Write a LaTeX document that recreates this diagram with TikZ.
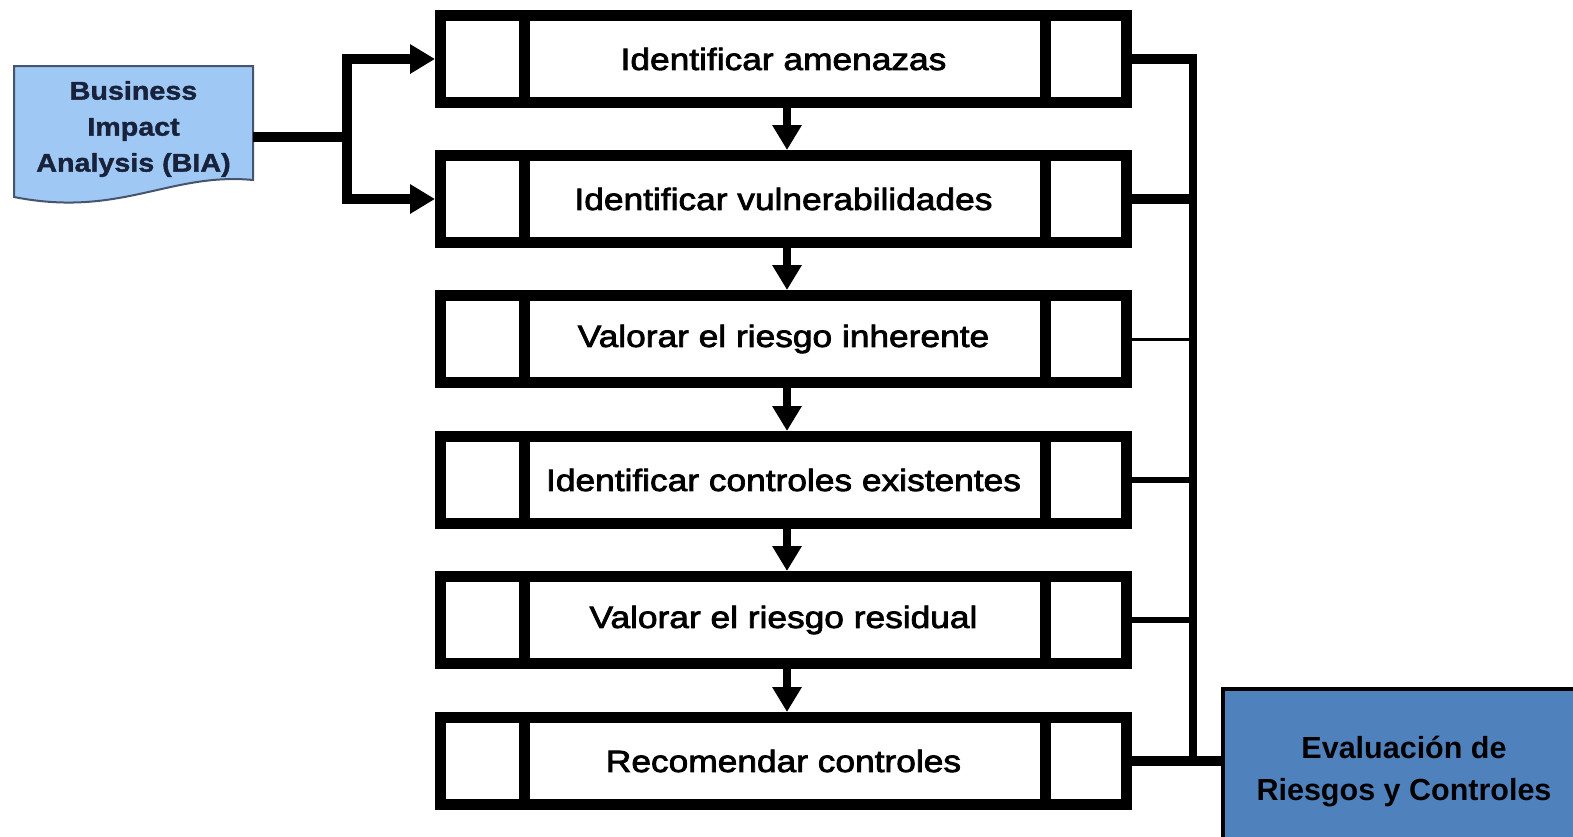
\documentclass[tikz,border=0pt]{standalone}
\usepackage{fontspec}
\setmainfont{Liberation Sans}
\usetikzlibrary{arrows.meta,calc}
\newfontfamily\boxfont[FakeStretch=1.15,FakeBold=2.5]{Liberation Sans}
\newfontfamily\biafont[FakeStretch=1.12,FakeBold=1.5]{Liberation Sans}
\definecolor{biablue}{RGB}{160,200,245}
\definecolor{biatext}{RGB}{24,34,58}
\definecolor{biaedge}{RGB}{70,85,110}
\definecolor{evalblue}{RGB}{79,129,189}
\begin{document}
\begin{tikzpicture}[x=1pt,y=-1pt,
  procbox/.style={draw=black, line width=11pt, fill=white, minimum width=686pt,
    minimum height=87pt, inner sep=0pt,
    font=\boxfont\fontsize{30.7}{36}\selectfont},
  divider/.style={line width=11pt},
  flow/.style={line width=8pt, -{Triangle[width=28pt,length=25pt]}},
  feed/.style={line width=10pt, line join=miter}]
\useasboundingbox (0,0) rectangle (1573,836);

% process boxes
\node[procbox] (b1) at (783.5,59)  {Identificar amenazas};
\node[procbox] (b2) at (783.5,199) {Identificar vulnerabilidades};
\node[procbox] (b3) at (783.5,339) {Valorar el riesgo inherente};
\node[procbox] (b4) at (783.5,480) {Identificar controles existentes};
\node[procbox] (b5) at (783.5,620) {Valorar el riesgo residual};
\node[procbox] (b6) at (783.5,761) {Recomendar controles};

\foreach \b in {b1,b2,b3,b4,b5,b6}{
  \draw[divider] ([xshift=89pt]\b.north west) -- ([xshift=89pt]\b.south west);
  \draw[divider] ([xshift=-87pt]\b.north east) -- ([xshift=-87pt]\b.south east);
}

% down arrows
\foreach \a/\c in {b1/b2,b2/b3,b3/b4,b4/b5,b5/b6}{
  \draw[flow] ([xshift=3.5pt]\a.south) -- ([xshift=3.5pt]\c.north);
}

% BIA document shape
\node[inner sep=0pt, outer sep=0pt,
  minimum width=239pt, minimum height=114pt] (bia) at (133.5,123) {};
\path[draw=biaedge, fill=biablue, line width=2pt]
  (bia.north west) -- (bia.north east) -- (bia.south east)
  .. controls ($(bia.south east)+(-83,-8)$) and ($(bia.south west)+(106,38)$)
  .. ($(bia.south west)+(0,17)$) -- cycle;
\node[align=center, text=biatext, inner sep=0pt,
  font=\biafont\bfseries\fontsize{25.6}{36}\selectfont] (biatxt) at ($(bia.center)+(0,6)$)
  {Business\\Impact\\Analysis (BIA)};

% left feed
\coordinate (jn) at (347,137);
\draw[feed] (bia.east |- jn) -- (jn);
\draw[feed, {Triangle[width=28pt,length=25pt]}-{Triangle[width=28pt,length=25pt]}]
  (b1.west) -- (jn |- b1.west) -- (jn |- b2.west) -- (b2.west);

% evaluation box
\node[draw=black, line width=4pt, fill=evalblue, minimum width=362pt,
  minimum height=166pt, align=center, inner sep=0pt,
  font=\bfseries\fontsize{30.5}{42}\selectfont] (ev) at (1404,772)
  {Evaluación de\\Riesgos y Controles};

% right collector
\coordinate (vx) at (1193,0);
\draw[line width=8pt] ($(vx |- b1.east)+(0,-5)$) -- ($(vx |- b6.east)+(0,5)$);
\draw[line width=10pt] (b1.east) -- ($(vx |- b1.east)+(4,0)$);
\draw[line width=10pt] (b2.east) -- ($(vx |- b2.east)+(4,0)$);
\draw[line width=3pt]  (b3.east) -- ($(vx |- b3.east)+(4,0)$);
\draw[line width=6pt]  (b4.east) -- ($(vx |- b4.east)+(4,0)$);
\draw[line width=6pt]  (b5.east) -- ($(vx |- b5.east)+(4,0)$);
\draw[line width=10pt] (b6.east) -- (b6.east -| ev.west);
\end{tikzpicture}
\end{document}
